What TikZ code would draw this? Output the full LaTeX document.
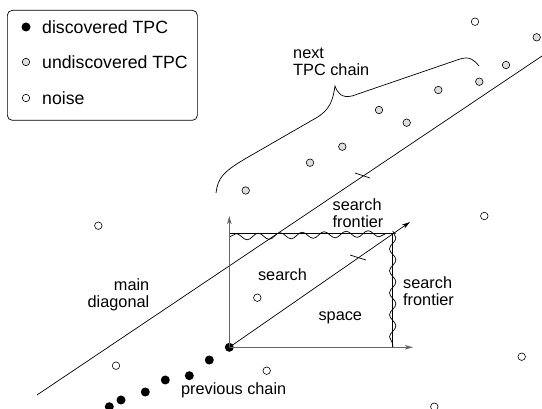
\documentclass[tikz,border=0pt]{standalone}
\usepackage{fontspec}
\setmainfont{Liberation Sans}
\usetikzlibrary{arrows.meta,decorations.pathmorphing}
\begin{document}
\begin{tikzpicture}[x=1pt,y=-1pt,
  found/.style={circle,fill=black,inner sep=0pt,minimum size=9pt},
  pending/.style={circle,draw=black,fill=black!13,line width=0.6pt,inner sep=0pt,minimum size=7.5pt},
  noisept/.style={circle,draw=black,fill=white,line width=0.6pt,inner sep=0pt,minimum size=7.5pt},
  lbl/.style={font=\fontsize{16.3}{16.5}\selectfont,inner sep=0pt,align=left},
  keytext/.style={font=\fontsize{17.7}{18}\selectfont,inner sep=0pt,anchor=west},
  thin/.style={line width=0.7pt,black},
  axis/.style={line width=1pt,black!60,-{Stealth[length=8pt,width=4.5pt,inset=2pt]}},
  frontier/.style={line width=0.7pt,decorate,decoration={snake,amplitude=3.2pt,segment length=22pt}},
  tick/.style={line width=0.7pt}]
\useasboundingbox (0,0) rectangle (542,409);

% legend
\node[draw,rounded corners=5pt,line width=0.7pt,minimum width=190pt,minimum height=110pt,anchor=north west] (key) at (7,10) {};
\node[found] (k1) at (26,27) {};
\node[pending] (k2) at (26,62) {};
\node[noisept] (k3) at (26,98) {};
\node[keytext] (t1) at (42,27) {discovered TPC};
\node[keytext] (t2) at (42,62) {undiscovered TPC};
\node[keytext] (t3) at (42,98) {noise};

% main diagonal
\coordinate (d0) at (37,395);
\coordinate (d1) at (542,56);
\draw[thin] (d0) -- (d1);
\coordinate (m0) at (355,173);
\coordinate (m1) at (370,178);
\draw[tick] (m0) -- (m1);

% search space
\node[found] (o) at (229.3,347.3) {};
\coordinate (yend) at (229.3,216);
\coordinate (xend) at (413,347.3);
\coordinate (tl) at (229.3,233.3);
\coordinate (tr) at (392.7,233.3);
\coordinate (br) at (392.7,347.3);
\draw[thin] (tl) -- (tr) -- (br);
\draw[frontier] (229.3,237) -- (396,233.3);
\draw[frontier] (392.7,231) -- (392.7,347.3);
\draw[axis] (o.center) -- (yend);
\draw[axis] (o.center) -- (xend);
\coordinate (aend) at (410,222);
\draw[thin,-{Stealth[length=8pt,width=4.5pt,inset=2pt]}] (o.center) -- (aend);
\coordinate (s0) at (350,255);
\coordinate (s1) at (366,260);
\draw[tick] (s0) -- (s1);

% brace around the next chain
\draw[thin] (216,193) .. controls (218,178) and (222,172) .. (250,156)
  -- (316,118) .. controls (330,110) and (333,100) .. (335,86)
  .. controls (338,94) and (342,98) .. (352,96)
  -- (460,59) .. controls (470,56) and (474,60) .. (479,66);

% previous chain
\node[found] (p1) at (209.3,360) {};
\node[found] (p2) at (189.3,375.7) {};
\node[found] (p3) at (165.3,380) {};
\node[found] (p4) at (145.3,392) {};
\node[found] (p5) at (121,400) {};
\node[found] (p6) at (109.3,406.7) {};

% undiscovered chain points
\node[pending] (u1) at (245.7,190.5) {};
\node[pending] (u2) at (310,162.7) {};
\node[pending] (u3) at (342.3,146.7) {};
\node[pending] (u4) at (379,110) {};
\node[pending] (u5) at (406.7,122.7) {};
\node[pending] (u6) at (438.3,90) {};
\node[pending] (u7) at (479.3,81.7) {};
\node[pending] (u8) at (506,65) {};
\node[pending] (u9) at (536.7,37.3) {};

% noise
\node[noisept] (n1) at (475,21.7) {};
\node[noisept] (n2) at (98.3,225.7) {};
\node[noisept] (n3) at (116,365.7) {};
\node[noisept] (n4) at (257.3,297.7) {};
\node[noisept] (n5) at (266.7,370.7) {};
\node[noisept] (n6) at (484.3,216) {};
\node[noisept] (n7) at (521.7,356.7) {};
\node[noisept] (n8) at (434.3,406.7) {};

% labels
\node[lbl,anchor=west] (l1) at (293,62) {next\\TPC chain};
\node[lbl,anchor=west] (l2) at (332.5,213) {search\\frontier};
\node[lbl,anchor=west] (l3) at (403,291) {search\\frontier};
\node[lbl] (l4) at (282.5,275) {search};
\node[lbl] (l5) at (340.3,318) {space};
\node[lbl,anchor=east,align=right] (l6) at (149.5,295) {main\\diagonal};
\node[lbl] (l7) at (233.7,390.7) {previous chain};
\end{tikzpicture}
\end{document}
